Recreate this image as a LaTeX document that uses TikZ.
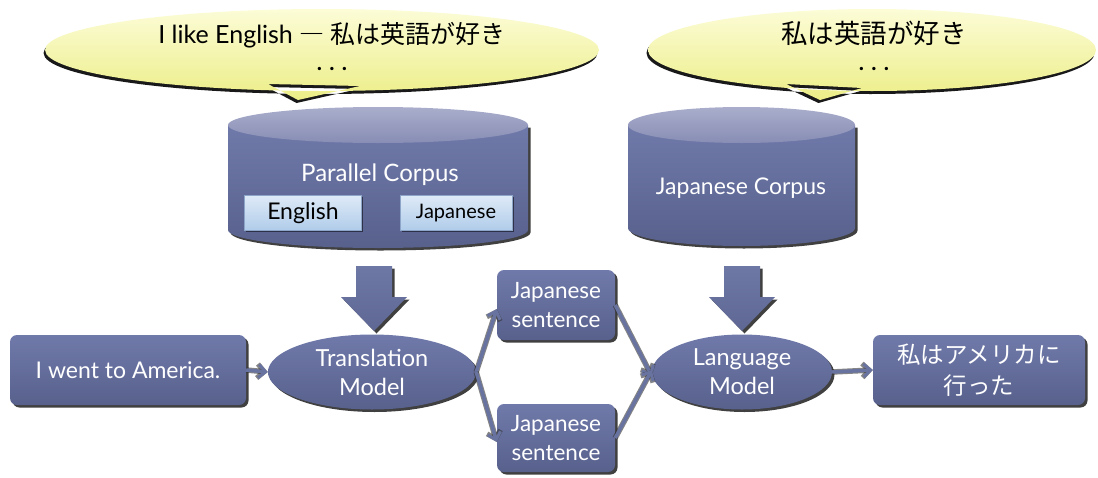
\documentclass[tikz,border=0pt]{standalone}
\usepackage{fontspec}
\setmainfont{Lato}
\newfontfamily\jp{Noto Sans CJK JP}
\usetikzlibrary{shapes.geometric,shadows,arrows.meta}
\definecolor{slateA}{RGB}{112,122,170}
\definecolor{slateB}{RGB}{88,97,140}
\definecolor{slateline}{RGB}{105,115,160}
\definecolor{arrA}{RGB}{110,120,165}
\definecolor{arrB}{RGB}{95,104,148}
\definecolor{cyltopA}{RGB}{170,174,204}
\definecolor{cyltopB}{RGB}{135,141,180}
\definecolor{bubA}{RGB}{252,252,215}
\definecolor{bubB}{RGB}{236,238,135}
\definecolor{tagA}{RGB}{222,234,247}
\definecolor{tagB}{RGB}{176,204,234}
\definecolor{tagline}{RGB}{140,165,200}
\newcommand\bubdots{{\bfseries\fontsize{22}{22}\selectfont .\,\,.\,\,.}}
\tikzset{
  shad/.style={drop shadow={shadow xshift=2.5pt,shadow yshift=-2.5pt,fill=black,opacity=.75}},
  nodebox/.style={rectangle,rounded corners=7pt,shad,top color=slateA,bottom color=slateB,
     text=white,align=center,inner sep=0pt,font=\fontsize{23}{27}\selectfont},
  oval/.style={ellipse,shad,top color=slateA,bottom color=slateB,
     text=white,align=center,inner sep=0pt,font=\fontsize{23.5}{29}\selectfont},
  tag/.style={rectangle,top color=tagA,bottom color=tagB,draw=tagline,line width=.6pt,
     text=black,inner sep=0pt,drop shadow={shadow xshift=1.5pt,shadow yshift=-1.5pt,fill=black,opacity=.5}},
  conn/.style={draw=slateline,line width=3.5pt,-{Straight Barb[length=7pt,width=13pt,line width=3pt]},
     preaction={draw=black!80,opacity=.6,line width=5.5pt,-{Straight Barb[length=7pt,width=14pt,line width=5pt]}}},
  fatarrow/.style={top color=arrA,bottom color=arrB,draw=none,shad},
  bubble/.style={top color=bubA,bottom color=bubB,draw=none,
     drop shadow={shadow xshift=-1.5pt,shadow yshift=-3pt,fill=black,opacity=.9}},
  cylbody/.style={top color=slateA,bottom color=slateB,shad},
  cyltop/.style={top color=cyltopA,bottom color=cyltopB},
  btext/.style={font=\fontsize{25}{22}\selectfont,text=black,inner sep=0pt,align=center}
}
\begin{document}
\begin{tikzpicture}[x=1pt,y=-1pt]
\useasboundingbox (0,0) rectangle (1098,477);
% speech bubbles
\path[bubble] (322,50) ellipse[x radius=277,y radius=41]
   (268,84) -- (298,100) -- (360,86) -- cycle;
\node[btext] (b1t) at (332,46) {I like English {\jp ―} {\jp 私は英語が好き}\\[5pt]\bubdots};
\path[bubble] (872,50) ellipse[x radius=224,y radius=41]
   (786,84) -- (820,100) -- (862,88) -- cycle;
\node[btext,font=\fontsize{26.5}{22}\selectfont] (b2t) at (874,46) {{\jp 私は英語が好き}\\[5pt]\bubdots};
% parallel corpus cylinder
\path[cylbody] (228,125) -- (228,230) arc[start angle=180,end angle=0,x radius=150,y radius=18] -- (528,125) -- cycle;
\path[cyltop] (378,125) ellipse[x radius=150,y radius=18];
\node[text=white,font=\fontsize{24}{28}\selectfont] (pc) at (380,175) {Parallel Corpus};
\node[tag,minimum width=117pt,minimum height=35pt,font=\fontsize{23}{27}\selectfont] (en) at (303,213) {English};
\node[tag,minimum width=112pt,minimum height=35pt,font=\fontsize{20}{24}\selectfont] (ja) at (456,213) {Japanese};
% japanese corpus cylinder
\path[cylbody] (628,125) -- (628,228) arc[start angle=180,end angle=0,x radius=113.5,y radius=18] -- (855,125) -- cycle;
\path[cyltop] (741.5,125) ellipse[x radius=113.5,y radius=18];
\node[text=white,font=\fontsize{23}{27}\selectfont] (jc) at (741,188) {Japanese Corpus};
% fat arrows
\path[fatarrow] (356,266) -- (392,266) -- (392,297) -- (407,297) -- (374,331) -- (341,297) -- (356,297) -- cycle;
\path[fatarrow] (724,266) -- (760,266) -- (760,297) -- (775,297) -- (742,331) -- (709,297) -- (724,297) -- cycle;
% nodes
\node[nodebox,minimum width=236pt,minimum height=70pt] (in) at (128,370) {I went to America.};
\node[oval,minimum width=208pt,minimum height=75pt] (tm) at (372,372) {Translation\\Model};
\node[nodebox,minimum width=118pt,minimum height=70pt,font=\fontsize{22.5}{29}\selectfont] (js1) at (556,305) {Japanese\\sentence};
\node[nodebox,minimum width=118pt,minimum height=68pt,font=\fontsize{22.5}{29}\selectfont] (js2) at (556,438) {Japanese\\sentence};
\node[oval,minimum width=180pt,minimum height=75pt] (lm) at (742,372) {Language\\Model};
\node[nodebox,minimum width=212pt,minimum height=70pt,font=\jp\fontsize{23.5}{31}\selectfont] (out) at (979,370) {私はアメリカに\\行った};
% connectors
\draw[conn] (in.east) -- (tm.west);
\draw[conn] (tm.east) -- ([yshift=-4pt]js1.west);
\draw[conn] (tm.east) -- ([yshift=-4pt]js2.west);
\draw[conn] (js1.east) -- ([yshift=-4pt]lm.west);
\draw[conn] (js2.east) -- ([yshift=2pt]lm.west);
\draw[conn] (lm.east) -- (out.west);
\end{tikzpicture}
\end{document}
